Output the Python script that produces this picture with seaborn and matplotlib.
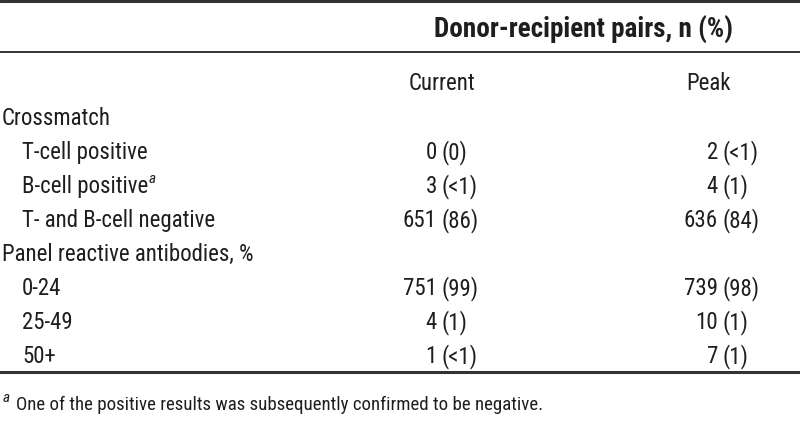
import matplotlib.pyplot as plt
import seaborn as sns

# ── Dados da tabela ───────────────────────────────────────
header_title = "Donor-recipient pairs, n (%)"
column_names = ["Current", "Peak"]
row_labels = [
    "Crossmatch",
    "T-cell positive",
    "B-cell positive",
    "T- and B-cell negative",
    "Panel reactive antibodies, %",
    "0-24",
    "25-49",
    "50+",
]
row_indent = [False, True, True, True, False, True, True, True]
current_n = ["", "0", "3", "651", "", "751", "4", "1"]
current_pct = ["", "(0)", "(<1)", "(86)", "", "(99)", "(1)", "(<1)"]
peak_n = ["", "2", "4", "636", "", "739", "10", "7"]
peak_pct = ["", "(<1)", "(1)", "(84)", "", "(98)", "(1)", "(1)"]
footnote_row = 2
footnote = "One of the positive results was subsequently confirmed to be negative."

sns.set_theme(style="white")
plt.rcParams["font.family"] = ["Roboto Condensed", "Archivo Narrow", "DejaVu Sans"]

fig = plt.figure(figsize=(8, 4.35), dpi=100)
ax = fig.add_axes([0, 0, 1, 1])
ax.set_xlim(0, 800)
ax.set_ylim(435, 0)
ax.axis("off")

fs = 16.5
line_color = "#333333"
text_color = "#1e1e1e"

# Linhas horizontais
ax.axhline(1.5, color=line_color, lw=2.2)
ax.axhline(52.5, color=line_color, lw=1.4)
ax.axhline(372.5, color=line_color, lw=2.2)

ax.text(583, 30, header_title, fontsize=19.5, fontweight="bold", ha="center",
        va="center", color=text_color)
col_x = [442, 709]
for x, name in zip(col_x, column_names):
    ax.text(x, 84, name, fontsize=fs, ha="center", va="center", color=text_color)

row_y0, row_step = 118.5, 34.0
num_right = [437, 718]
fig.canvas.draw()
renderer = fig.canvas.get_renderer()
for i, label in enumerate(row_labels):
    y = row_y0 + i * row_step
    x = 22 if row_indent[i] else 2
    t = ax.text(x, y, label, fontsize=fs, ha="left", va="center", color=text_color)
    if i == footnote_row:
        bb = t.get_window_extent(renderer)
        x_end = ax.transData.inverted().transform((bb.x1, bb.y0))[0]
        ax.text(x_end + 0.5, y - 7, "a", fontsize=11, style="italic",
                ha="left", va="center", color=text_color)
    for xr, n, p in zip(num_right, [current_n[i], peak_n[i]],
                        [current_pct[i], peak_pct[i]]):
        if n:
            ax.text(xr, y, n, fontsize=fs, ha="right", va="center", color=text_color)
            ax.text(xr + 4.5, y, p, fontsize=fs, ha="left", va="center", color=text_color)

ax.text(3, 398, "a", fontsize=11, style="italic", ha="left", va="center",
        color=text_color)
ax.text(16, 405, footnote, fontsize=13.6, ha="left", va="center", color=text_color)

fig.savefig("out.png", dpi=100)
